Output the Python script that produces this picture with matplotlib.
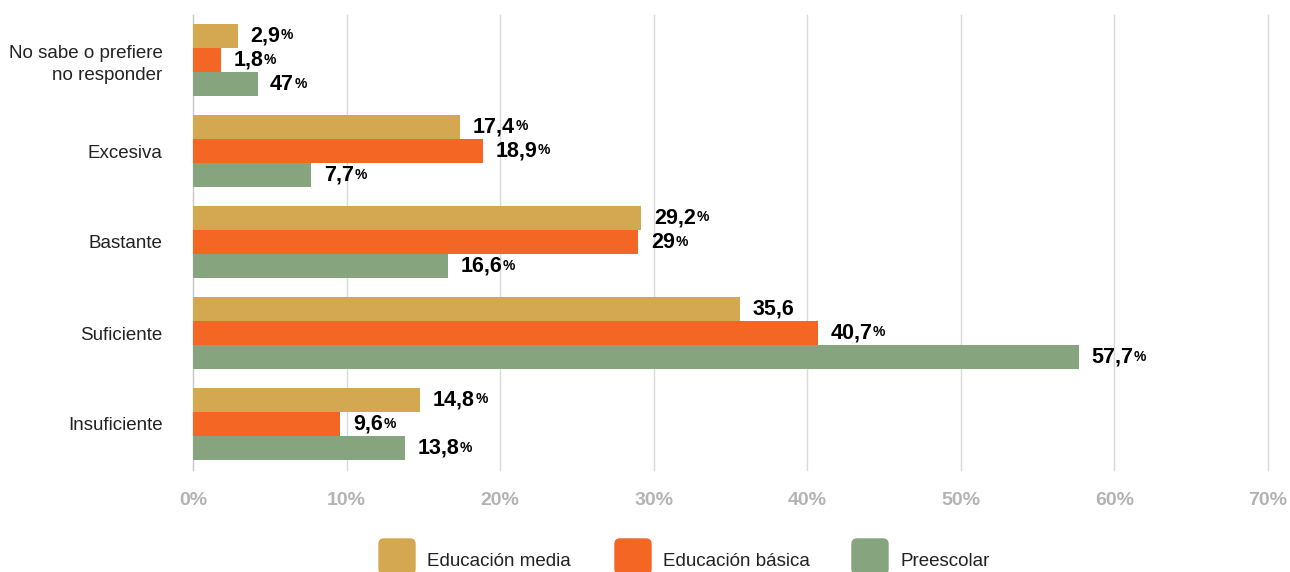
import matplotlib.pyplot as plt
import numpy as np
from matplotlib.patches import FancyBboxPatch

plt.rcParams['font.family'] = ['Liberation Sans', 'DejaVu Sans']

categories = ['No sabe o prefiere\nno responder', 'Excesiva', 'Bastante', 'Suficiente', 'Insuficiente']
series = ['Educación media', 'Educación básica', 'Preescolar']
colors = ['#D4A850', '#F46624', '#86A57F']

media = [2.9, 17.4, 29.2, 35.6, 14.8]
basica = [1.8, 18.9, 29.0, 40.7, 9.6]
preescolar = [4.2, 7.7, 16.6, 57.7, 13.8]

media_lbl = ['2,9', '17,4', '29,2', '35,6', '14,8']
basica_lbl = ['1,8', '18,9', '29', '40,7', '9,6']
preescolar_lbl = ['47', '7,7', '16,6', '57,7', '13,8']
media_pct = [True, True, True, False, True]

xticks = [0, 10, 20, 30, 40, 50, 60, 70]

fig = plt.figure(figsize=(12.9, 5.72), dpi=100)
ax = fig.add_axes([193 / 1290, 1 - 469.5 / 572, 1075 / 1290, 455 / 572])

h = 0.267
y = np.arange(len(categories))
values = [media, basica, preescolar]
labels = [media_lbl, basica_lbl, preescolar_lbl]
pcts = [media_pct, [True] * 5, [True] * 5]

texts = []
for i, (vals, col) in enumerate(zip(values, colors)):
    pos = y + (i - 1) * h
    ax.barh(pos, vals, height=h, color=col, zorder=3)
    for p, v, lab, pc in zip(pos, vals, labels[i], pcts[i]):
        t = ax.annotate(lab, (v, p), xytext=(9, 0), textcoords='offset points',
                        ha='left', va='center', fontsize=15.5, fontweight='bold', color='black')
        if pc:
            texts.append(t)

ax.set_xlim(0, 70)
ax.set_ylim(len(categories) - 0.5, -0.5)
ax.set_xticks(xticks)
ax.set_xticklabels([f'{x}%' for x in xticks], color='#B3B3B3', fontweight='bold', fontsize=14)
ax.set_yticks(y)
ax.set_yticklabels(categories, fontsize=13.5, color='#222222', linespacing=1.35)
ax.tick_params(axis='y', length=0, pad=22)
ax.tick_params(axis='x', length=0, pad=16)
ax.grid(axis='x', color='#D9D9D9', linewidth=1, zorder=0)
for gl in ax.get_xgridlines():
    gl.set_clip_on(False)
for s in ['top', 'right', 'bottom']:
    ax.spines[s].set_visible(False)
ax.spines['left'].set_color('#C8C8C8')

# small % signs after the value labels
fig.canvas.draw()
r = fig.canvas.get_renderer()
inv = fig.transFigure.inverted()
for t in texts:
    bb = t.get_window_extent(r)
    fx, fy = inv.transform((bb.x1 + 0.5, bb.y1 - 3))
    fig.text(fx, fy, '%', fontsize=10, fontweight='bold', ha='left', va='top', color='black')

# legend
leg_x = [3.79, 6.15, 8.52]
for lx, col, name in zip(leg_x, colors, series):
    fig.patches.append(FancyBboxPatch((lx, -0.02), 0.36, 0.35,
                                      boxstyle='round,pad=0,rounding_size=0.05',
                                      transform=fig.dpi_scale_trans, color=col))
    fig.text(lx + 0.48, 0.10, name, fontsize=13.5, va='center', ha='left',
             color='#222222', transform=fig.dpi_scale_trans)

fig.savefig('out.png', dpi=100)
